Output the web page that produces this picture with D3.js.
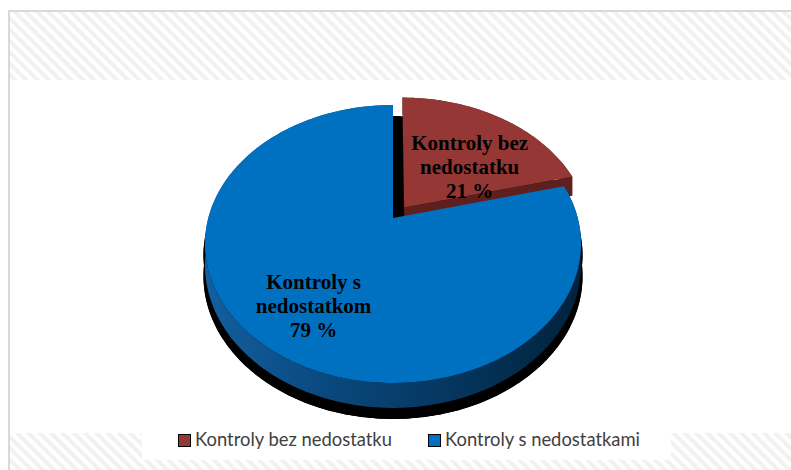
<!DOCTYPE html>
<html>
<head>
<meta charset="utf-8">
<script src="https://cdn.jsdelivr.net/npm/d3@7"></script>
<style>
  html, body { margin: 0; padding: 0; background: #fff; }
  svg { display: block; }
</style>
</head>
<body>
<div id="chart"></div>
<script>
// chart data
const categories = ["Kontroly bez nedostatku", "Kontroly s nedostatkami"];
const values = [21, 79];
const labelNames = [["Kontroly bez", "nedostatku"], ["Kontroly s", "nedostatkom"]];
const explode = [0.1, 0];

const topColors = ["#953735", "#0070c0"];
const sideColors = ["#6a2626", "url(#blueSide)"];

const width = 791, height = 470;

// perspective of the 3d pie: unit circle -> screen
const persp = { cx: 393, cy: 218, a: 184.7, b: 134.1, k: -0.187, h: 20.3 };

function proj(u, v, z) {
    const w = 1 + persp.k * v;
    return [persp.cx + persp.a * u / w, persp.cy + (persp.b * v + persp.h * z) / w];
}

// point on slice d at angle t, radius r, depth z
function pt(d, t, r, z) {
    const m = (d.startAngle + d.endAngle) / 2;
    const e = d.explode;
    return proj(r * Math.sin(t) + e * Math.sin(m), -r * Math.cos(t) - e * Math.cos(m), z);
}

function arcPts(d, r, z, a0, a1) {
    const n = Math.max(2, Math.ceil(Math.abs(a1 - a0) / (Math.PI / 180)));
    return d3.range(n + 1).map(i => pt(d, a0 + (a1 - a0) * i / n, r, z));
}

const line = d3.line();

const svg = d3.select("#chart").append("svg")
    .attr("width", width)
    .attr("height", height);

const defs = svg.append("defs");

// diagonal stripes used by the chart area background
const pat = defs.append("pattern")
    .attr("id", "stripes")
    .attr("patternUnits", "userSpaceOnUse")
    .attr("width", 8)
    .attr("height", 8)
    .attr("patternTransform", "rotate(-45)");
pat.append("rect").attr("width", 8).attr("height", 8).attr("fill", "#fff");
pat.append("rect").attr("width", 4).attr("height", 8).attr("fill", "#f1f1f1");

const grad = defs.append("linearGradient")
    .attr("id", "blueSide")
    .attr("gradientUnits", "userSpaceOnUse")
    .attr("x1", 205).attr("x2", 580).attr("y1", 0).attr("y2", 0);
grad.append("stop").attr("offset", 0).attr("stop-color", "#135f9f");
grad.append("stop").attr("offset", 0.3).attr("stop-color", "#0a4a80");
grad.append("stop").attr("offset", 1).attr("stop-color", "#00223d");

// background bands + frame
svg.append("rect")
    .attr("x", 10).attr("y", 12).attr("width", width - 10).attr("height", 68)
    .attr("fill", "url(#stripes)");
svg.append("rect")
    .attr("x", 10).attr("y", 433).attr("width", width - 10).attr("height", height - 433)
    .attr("fill", "url(#stripes)");
svg.append("path")
    .attr("d", `M9,${height}V11H${width}`)
    .attr("fill", "none")
    .attr("stroke", "#d9d9d9")
    .attr("stroke-width", 2);

// pie slices
const pie = d3.pie().sort(null).value(d => d.value);
const slices = pie(values.map((v, i) => ({ value: v, name: categories[i] })))
    .map((d, i) => Object.assign(d, { i, explode: explode[i] }));

const pieG = svg.append("g");

// drop shadow of the whole pie
const whole = { startAngle: 0, endAngle: 2 * Math.PI, explode: 0 };
const shadow = pieG.append("g")
    .attr("transform", `translate(${persp.cx},11) scale(1.008,1) translate(${-persp.cx},0)`)
    .attr("fill", "#000");
shadow.append("path").attr("d", line(arcPts(whole, 1, 0, 0, 2 * Math.PI)) + "Z");
shadow.append("path").attr("d", line(arcPts(whole, 1, 1, 0, 2 * Math.PI)) + "Z");
shadow.append("path").attr("d", line(arcPts(whole, 1, 0, Math.PI / 2, Math.PI * 1.5)
    .concat(arcPts(whole, 1, 1, Math.PI * 1.5, Math.PI / 2))) + "Z");

// outer sides
slices.forEach(d => {
    pieG.append("path")
        .attr("d", line(arcPts(d, 1, 0, d.startAngle, d.endAngle)
            .concat(arcPts(d, 1, 1, d.endAngle, d.startAngle))) + "Z")
        .attr("fill", sideColors[d.i]);
});

// radial faces of exploded slices
slices.filter(d => d.explode > 0).forEach(d => {
    [d.startAngle, d.endAngle].forEach(t => {
        pieG.append("path")
            .attr("d", line([pt(d, t, 0, 0), pt(d, t, 1, 0), pt(d, t, 1, 1), pt(d, t, 0, 1)]) + "Z")
            .attr("fill", "#5e1f1f");
    });
});

// top faces: non-exploded first so the pulled-out slice sits on top
slices.slice().sort((a, b) => a.explode - b.explode).forEach(d => {
    pieG.append("path")
        .attr("d", line([pt(d, 0, 0, 0)].concat(arcPts(d, 1, 0, d.startAngle, d.endAngle))) + "Z")
        .attr("fill", topColors[d.i]);
});

// data labels
const labelPos = [{ r: 0.62, dx: 3, dy: 18 }, { r: 0.65, dx: 2, dy: 12 }];
slices.forEach(d => {
    const m = (d.startAngle + d.endAngle) / 2;
    const p = pt(d, m, labelPos[d.i].r, 0);
    const lines = labelNames[d.i].concat([d.value + " %"]);
    const t = pieG.append("text")
        .attr("text-anchor", "middle")
        .attr("font-family", "'Liberation Serif', 'Times New Roman', serif")
        .attr("font-weight", "bold")
        .attr("font-size", 21)
        .attr("fill", "#000");
    lines.forEach((s, j) => {
        t.append("tspan")
            .attr("x", p[0] + labelPos[d.i].dx)
            .attr("y", p[1] + labelPos[d.i].dy + (j - 1) * 24 + 7)
            .text(s);
    });
});

// legend
const legend = svg.append("g");
legend.append("rect")
    .attr("x", 142).attr("y", 433).attr("width", 529).attr("height", 27)
    .attr("fill", "#fff");
const legendX = [178, 428];
categories.forEach((c, i) => {
    const g = legend.append("g").attr("transform", `translate(${legendX[i]},434)`);
    g.append("rect")
        .attr("x", 0.5).attr("y", 0.5).attr("width", 12).attr("height", 12)
        .attr("fill", topColors[i])
        .attr("stroke", "#000")
        .attr("stroke-width", 1);
    g.append("text")
        .attr("x", 17).attr("y", 12)
        .attr("font-family", "Lato, 'Open Sans', sans-serif")
        .attr("font-size", 18.4)
        .attr("fill", "#404040")
        .text(c);
});
</script>
</body>
</html>
